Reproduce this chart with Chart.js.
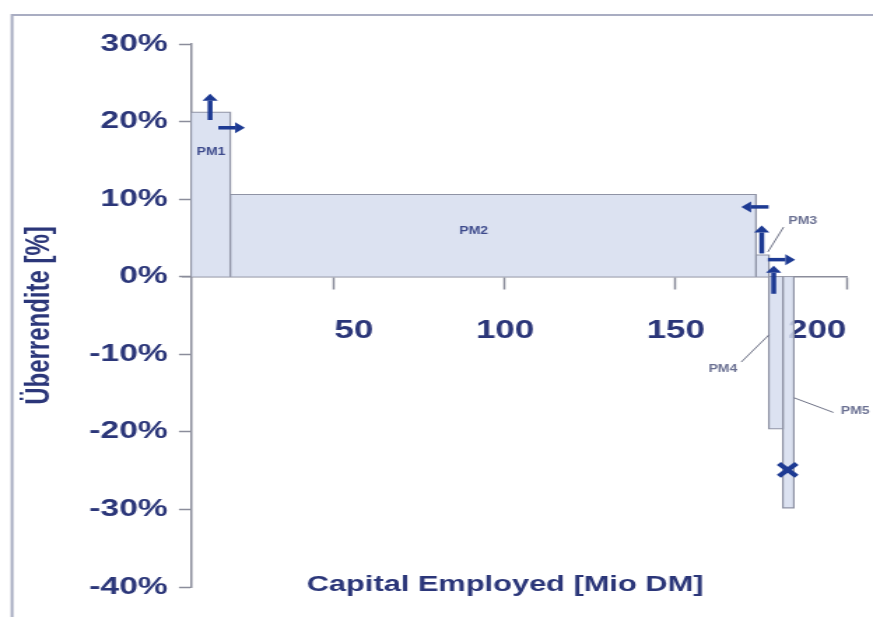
<!DOCTYPE html>
<html lang="de">
<head>
    <meta charset="UTF-8">
    <title>Überrendite je PM</title>
    <script src="https://cdn.jsdelivr.net/npm/chart.js"></script>
    <style>
        body {
            margin: 0;
            background: #ffffff;
            overflow: hidden;
        }
        /* the chart is drawn narrow and stretched sideways, like the old printout */
        #wrap {
            width: 624px;
            height: 617px;
            transform: scaleX(1.399);
            transform-origin: 0 0;
        }
    </style>
</head>
<body>
    <div id="wrap">
        <canvas id="excessChart" width="624" height="617"></canvas>
    </div>
    <script>
        // capital employed per unit (bar width, Mio DM) and excess return (bar height, %)
        const units = ['PM1', 'PM2', 'PM3', 'PM4', 'PM5'];
        const capital = [11.5, 154, 3.8, 4.1, 3.2];
        const excess = [21.2, 10.6, 2.8, -19.6, -29.8];
        const capitalStart = 8;

        const xTicks = [50, 100, 150, 200];
        const yTicks = [-40, -30, -20, -10, 0, 10, 20, 30];

        // marked point (x = capital, y = %)
        const crossPoint = [{ x: 182.8, y: -24.9 }];

        // arrows in data units: [xFrom, yFrom, xTo, yTo], head at "to"
        const arrows = [
            [13.6, 20.2, 13.6, 23.6],
            [16.0, 19.2, 23.8, 19.2],
            [177.2, 9.0, 169.2, 9.0],
            [175.2, 3.0, 175.2, 6.6],
            [177.0, 2.2, 185.0, 2.2],
            [178.7, -2.2, 178.7, 1.4]
        ];

        // unit labels: text, x, y, optional leader line [x0, y0, x1, y1]
        const labelText = ['PM1', 'PM2', 'PM3', 'PM4', 'PM5'];
        const labelX = [13.9, 90.8, 187.2, 163.8, 202.6];
        const labelY = [16.0, 5.8, 7.2, -11.9, -17.4];
        const leaders = [null, null, [177.0, 3.2, 181.6, 6.4], [177.3, -7.5, 169.2, -11.0], [184.6, -15.6, 196.2, -17.5]];

        const navy = '#2b3679';
        const arrowBlue = '#1d3a93';
        const axisGrey = '#8b8d9b';
        const fontFamily = '"Liberation Sans", Arial, sans-serif';

        // each bar is a closed step outline filled down to the zero line
        let edge = capitalStart;
        const barSets = units.map((name, i) => {
            const x0 = edge;
            const x1 = edge + capital[i];
            edge = x1;
            return {
                type: 'line',
                label: name,
                data: [
                    { x: x0, y: 0 },
                    { x: x0, y: excess[i] },
                    { x: x1, y: excess[i] },
                    { x: x1, y: 0 }
                ],
                borderColor: '#8f93a5',
                borderWidth: 1.2,
                backgroundColor: 'rgba(214, 221, 238, 0.85)',
                fill: 'origin',
                pointRadius: 0,
                tension: 0
            };
        });

        function drawArrow(ctx, x0, y0, x1, y1) {
            const ang = Math.atan2(y1 - y0, x1 - x0);
            const head = 7;
            const half = 5.5;
            ctx.beginPath();
            ctx.moveTo(x0, y0);
            ctx.lineTo(x1 - Math.cos(ang) * head, y1 - Math.sin(ang) * head);
            ctx.stroke();
            ctx.beginPath();
            ctx.moveTo(x1, y1);
            ctx.lineTo(x1 - Math.cos(ang) * head - Math.sin(ang) * half, y1 - Math.sin(ang) * head + Math.cos(ang) * half);
            ctx.lineTo(x1 - Math.cos(ang) * head + Math.sin(ang) * half, y1 - Math.sin(ang) * head - Math.cos(ang) * half);
            ctx.closePath();
            ctx.fill();
        }

        const extras = {
            id: 'extras',
            beforeDraw(chart) {
                const ctx = chart.ctx;
                ctx.save();
                ctx.fillStyle = '#ffffff';
                ctx.fillRect(0, 0, chart.width, chart.height);
                // frame
                ctx.strokeStyle = '#a9adc2';
                ctx.lineWidth = 2;
                ctx.beginPath();
                ctx.moveTo(8.6, chart.height);
                ctx.lineTo(8.6, 15);
                ctx.lineTo(chart.width, 15);
                ctx.stroke();
                ctx.restore();
            },
            afterDraw(chart) {
                const ctx = chart.ctx;
                const xs = chart.scales.x;
                const ys = chart.scales.y;
                const area = chart.chartArea;
                ctx.save();

                // x axis runs a little past the y axis
                ctx.strokeStyle = axisGrey;
                ctx.lineWidth = 1.5;
                ctx.beginPath();
                ctx.moveTo(130, ys.getPixelForValue(0));
                ctx.lineTo(area.left, ys.getPixelForValue(0));
                ctx.stroke();

                // leader lines
                ctx.strokeStyle = '#6f7387';
                ctx.lineWidth = 1;
                leaders.forEach(l => {
                    if (!l) return;
                    ctx.beginPath();
                    ctx.moveTo(xs.getPixelForValue(l[0]), ys.getPixelForValue(l[1]));
                    ctx.lineTo(xs.getPixelForValue(l[2]), ys.getPixelForValue(l[3]));
                    ctx.stroke();
                });

                // unit labels
                ctx.font = 'bold 10px ' + fontFamily;
                ctx.textAlign = 'center';
                ctx.textBaseline = 'middle';
                labelText.forEach((t, i) => {
                    ctx.fillStyle = i < 2 ? '#3d4a8c' : '#6a7092';
                    ctx.fillText(t, xs.getPixelForValue(labelX[i]), ys.getPixelForValue(labelY[i]));
                });

                // arrows
                ctx.strokeStyle = arrowBlue;
                ctx.fillStyle = arrowBlue;
                ctx.lineWidth = 3.5;
                arrows.forEach(a => {
                    drawArrow(ctx,
                        xs.getPixelForValue(a[0]), ys.getPixelForValue(a[1]),
                        xs.getPixelForValue(a[2]), ys.getPixelForValue(a[3]));
                });

                // x axis title
                ctx.fillStyle = navy;
                ctx.font = 'bold 22px ' + fontFamily;
                ctx.textAlign = 'center';
                ctx.textBaseline = 'alphabetic';
                ctx.fillText('Capital Employed [Mio DM]', 361, 591);
                ctx.restore();
            }
        };

        new Chart(document.getElementById('excessChart'), {
            type: 'scatter',
            data: {
                datasets: [
                    ...barSets,
                    {
                        type: 'scatter',
                        label: 'X',
                        order: -1,
                        data: crossPoint,
                        pointStyle: 'crossRot',
                        pointRadius: 9,
                        pointBorderWidth: 4,
                        pointBorderColor: arrowBlue,
                        borderColor: arrowBlue
                    }
                ]
            },
            options: {
                responsive: false,
                animation: false,
                devicePixelRatio: 1,
                layout: { padding: { left: 10, top: 44, right: 19, bottom: 30 } },
                plugins: {
                    legend: { display: false },
                    tooltip: { enabled: false }
                },
                scales: {
                    x: {
                        type: 'linear',
                        min: capitalStart,
                        max: 200,
                        position: { y: 0 },
                        afterBuildTicks: s => { s.ticks = xTicks.map(v => ({ value: v })); },
                        afterFit: s => { s.paddingLeft = 0; s.paddingRight = 0; },
                        grid: { drawOnChartArea: false, tickLength: 12, color: axisGrey, tickWidth: 1.5 },
                        border: { color: axisGrey, width: 1.5 },
                        ticks: {
                            color: navy,
                            padding: 27,
                            align: 'inner',
                            maxRotation: 0,
                            font: { family: fontFamily, size: 25, weight: 'bold' }
                        }
                    },
                    y: {
                        min: -40,
                        max: 30,
                        afterBuildTicks: s => { s.ticks = yTicks.map(v => ({ value: v })); },
                        afterFit: s => { s.width = 126.5; },
                        grid: { drawOnChartArea: false, tickLength: 8.6, color: axisGrey, tickWidth: 1.5 },
                        border: { color: axisGrey, width: 1.5 },
                        ticks: {
                            color: navy,
                            padding: 8,
                            callback: v => v + '%',
                            font: { family: fontFamily, size: 24, weight: 'bold' }
                        },
                        title: {
                            display: true,
                            text: 'Überrendite [%]',
                            color: navy,
                            padding: 4,
                            font: { family: fontFamily, size: 24, weight: 'bold' }
                        }
                    }
                }
            },
            plugins: [extras]
        });
    </script>
</body>
</html>
